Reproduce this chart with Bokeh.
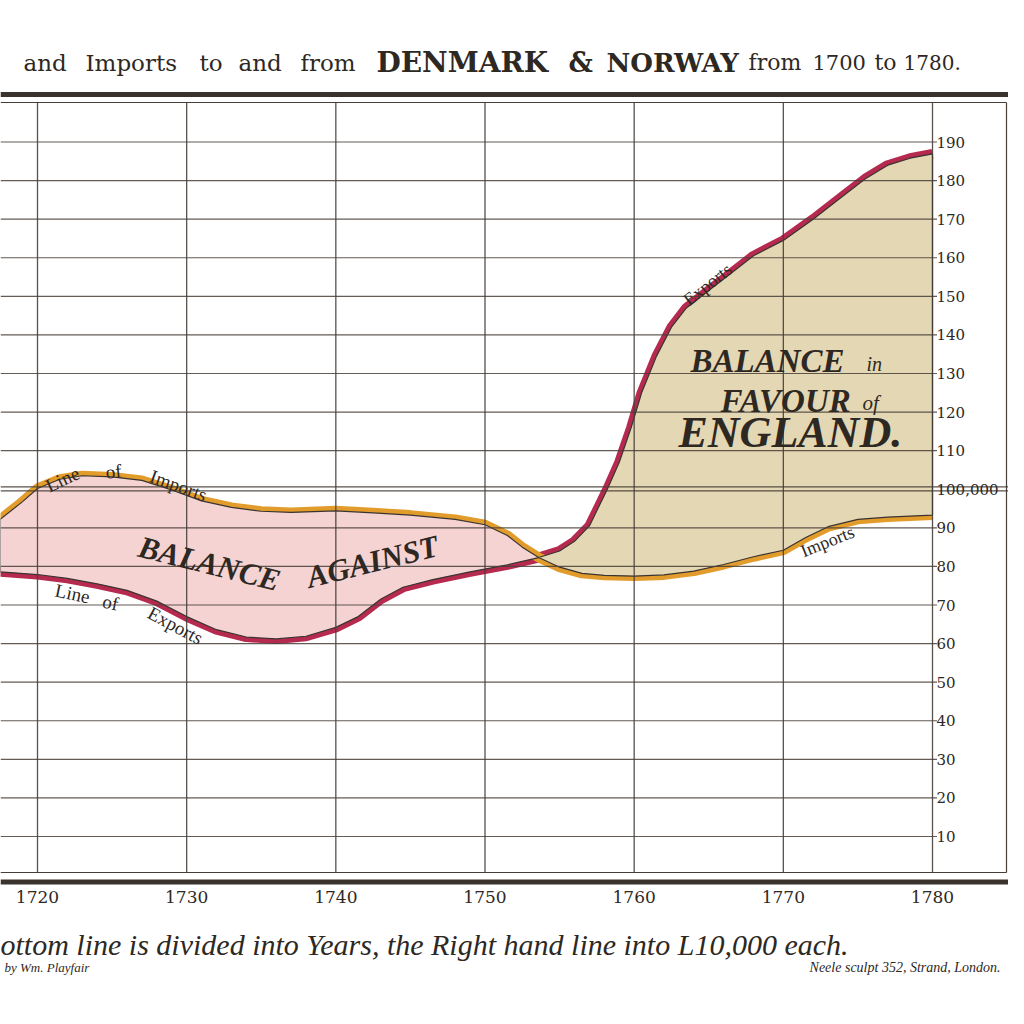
from bokeh.plotting import figure
from bokeh.models import Range1d, Span
from bokeh.embed import file_html
from bokeh.resources import INLINE
from bokeh.core.properties import value

# ---------------- data ----------------
import_years = [1717.5, 1719.0, 1720.0, 1721.5, 1723.0, 1725.0, 1727.0, 1729.0, 1731.0,
                1733.0, 1735.0, 1737.0, 1740.0, 1742.5, 1745.0, 1748.0, 1750.0, 1751.5,
                1752.5, 1753.6, 1755.0, 1756.5, 1758.0, 1760.0, 1762.0, 1764.0, 1766.0,
                1768.0, 1770.0, 1771.5, 1773.0, 1775.0, 1777.0, 1780.0]
import_values = [92.2, 96.8, 100.2, 102.6, 103.5, 103.2, 102.3, 99.8, 97.0,
                 95.3, 94.3, 94.0, 94.4, 93.9, 93.3, 92.2, 90.8, 88.0,
                 85.0, 82.3, 79.8, 78.2, 77.7, 77.5, 77.8, 78.8, 80.5,
                 82.5, 84.2, 87.5, 90.3, 92.2, 92.8, 93.3]

export_years = [1717.5, 1720.0, 1722.0, 1724.0, 1726.0, 1728.0, 1730.0, 1732.0, 1734.0,
                1736.0, 1738.0, 1740.0, 1741.5, 1743.0, 1744.5, 1746.5, 1749.0, 1751.5,
                1753.6, 1755.0, 1756.0, 1757.0, 1758.2, 1759.0, 1759.8, 1760.5, 1761.5,
                1762.5, 1763.5, 1765.0, 1766.5, 1768.0, 1770.0, 1772.0, 1774.0, 1775.5,
                1777.0, 1778.5, 1780.0]
export_values = [78.6, 77.9, 76.9, 75.5, 73.8, 71.0, 67.0, 63.6, 61.7,
                 61.2, 61.9, 64.2, 67.0, 71.5, 74.6, 76.6, 78.6, 80.4,
                 82.3, 84.0, 86.5, 90.5, 100.0, 107.0, 116.0, 125.0, 134.5,
                 142.0, 147.0, 151.5, 156.0, 160.5, 164.5, 170.0, 176.0, 180.5,
                 184.0, 185.8, 186.9]

cross_year = 1753.6

decade_years = [1720, 1730, 1740, 1750, 1760, 1770, 1780]
decade_labels = ["1720", "1730", "1740", "1750", "1760", "1770", "1780"]

value_ticks = [10, 20, 30, 40, 50, 60, 70, 80, 90, 100, 110, 120, 130, 140, 150, 160, 170, 180, 190]
value_labels = ["10", "20", "30", "40", "50", "60", "70", "80", "90", "100,000",
                "110", "120", "130", "140", "150", "160", "170", "180", "190"]

# ---------------- layout helpers (picture pixel -> data) ----------------
PX_1720, PX_1780 = 37.0, 932.0
PY_0, PY_190 = 874.6, 141.5
KX = (PX_1780 - PX_1720) / 60.0
KY = (PY_0 - PY_190) / 190.0


def X(px):
    return 1720 + (px - PX_1720) / KX


def Y(py):
    return (PY_0 - py) / KY


W = H = 1008
INK = "#2e2823"
GRID = "#463e38"
SERIF = "Liberation Serif"
WIDE = "DejaVu Serif"

p = figure(width=W, height=H,
           x_range=Range1d(X(0), X(W)), y_range=Range1d(Y(H), Y(0)),
           output_backend="svg", toolbar_location=None,
           x_axis_type=None, y_axis_type=None, min_border=0)
p.outline_line_color = None
p.background_fill_color = "white"
p.border_fill_color = "white"

# ---------------- coloured lines (under the fills) ----------------
p.line(export_years, export_values, line_color="#b72a4f", line_width=10, line_join="round")
p.line(import_years, import_values, line_color="#e29c2c", line_width=10, line_join="round")

# ---------------- fills between the lines ----------------
ex_a = [(x, v) for x, v in zip(export_years, export_values) if x <= cross_year]
im_a = [(x, v) for x, v in zip(import_years, import_values) if x <= cross_year]
ex_b = [(x, v) for x, v in zip(export_years, export_values) if x >= cross_year]
im_b = [(x, v) for x, v in zip(import_years, import_values) if x >= cross_year]

pink_x = [x for x, _ in ex_a] + [x for x, _ in im_a[::-1]]
pink_y = [v for _, v in ex_a] + [v for _, v in im_a[::-1]]
tan_x = [x for x, _ in ex_b] + [x for x, _ in im_b[::-1]]
tan_y = [v for _, v in ex_b] + [v for _, v in im_b[::-1]]

p.patch(pink_x, pink_y, fill_color="#f5d3d3", line_color="#3a3430", line_width=1.2)
p.patch(tan_x, tan_y, fill_color="#e4d7b3", line_color="#3a3430", line_width=1.2)

# ---------------- grid / frame ----------------
hx, hy = [], []
for v in value_ticks:
    if v == 100:
        continue
    hx.append([X(0), 1780 + 4.5 / KX])
    hy.append([v, v])
p.multi_line(hx, hy, line_color=GRID, line_width=1.2, line_alpha=0.85)

# double line at 100,000
p.multi_line([[X(0), X(1024)], [X(0), X(1024)]], [[100.6, 100.6], [99.6, 99.6]],
             line_color=GRID, line_width=1.2, line_alpha=0.9)

vx = [[yr, yr] for yr in decade_years]
vy = [[Y(872), Y(102)] for _ in decade_years]
p.multi_line(vx, vy, line_color=GRID, line_width=1.3, line_alpha=0.9)

# thin frame lines
p.multi_line([[X(0), X(1006)], [X(0), X(1006)], [X(1006), X(1006)]],
             [[Y(102), Y(102)], [Y(872), Y(872)], [Y(102), Y(872)]],
             line_color=GRID, line_width=1.2)

# heavy rules top and bottom
p.add_layout(Span(location=Y(94), dimension="width", line_color="#3a332d", line_width=5))
p.add_layout(Span(location=Y(881.5), dimension="width", line_color="#3a332d", line_width=5))


# ---------------- texts (positions are the visual centres) ----------------
def txt(s, px, py, size, font=SERIF, style="normal", align="left", angle=0, color=INK):
    p.text(x=[X(px)], y=[Y(py)], text=[s], text_font=value(font),
           text_font_size=f"{size}px", text_font_style=style, text_align=align,
           text_baseline="middle", angle=angle, angle_units="deg", text_color=color)


# title, word by word
title_words = [("and", 23, 23, "normal"), ("Imports", 85, 23, "normal"), ("to", 199, 23, "normal"),
               ("and", 238, 23, "normal"), ("from", 300, 23, "normal"),
               ("DENMARK", 376, 28, "bold"), ("&", 568, 27, "bold"), ("NORWAY", 606, 26, "bold"),
               ("from", 748, 22, "normal"), ("1700", 812, 21, "normal"), ("to", 874, 22, "normal"),
               ("1780.", 903, 20, "normal")]
for w, px, sz, st in title_words:
    txt(w, px, 62, sz, font=WIDE, style=st)

# bottom year labels
p.text(x=decade_years, y=[Y(896)] * len(decade_years), text=decade_labels,
       text_font=value(WIDE), text_font_size="17px", text_align="center",
       text_baseline="middle", text_color=INK)

# right value labels
p.text(x=[X(936)] * len(value_ticks), y=value_ticks, text=value_labels,
       text_font=value(WIDE), text_font_size="15px", text_align="left",
       text_baseline="middle", text_color=INK)

# captions
txt("ottom line is divided into Years, the Right hand line into L10,000 each.", 0, 944, 30, style="italic")
txt("by Wm. Playfair", 4, 967, 13, style="italic")
txt("Neele sculpt 352, Strand, London.", 1000, 967, 14, style="italic", align="right")

# curve annotations
txt("Line", 62, 479, 19, align="center", angle=25)
txt("of", 113, 471, 19, align="center", angle=5)
txt("Imports", 178, 485, 19, align="center", angle=-20)

txt("Line", 72, 593, 19, align="center", angle=-12)
txt("of", 110, 602, 19, align="center", angle=-12)
txt("Exports", 175, 625, 19, align="center", angle=-28)

txt("Exports", 707, 284, 18, align="center", angle=38)
txt("Imports", 827, 541, 18, align="center", angle=22)

# balance texts
txt("BALANCE", 209, 563, 31, style="bold italic", align="center", angle=-14)
txt("AGAINST", 372, 561, 31, style="bold italic", align="center", angle=14)

txt("BALANCE", 690, 360, 33, style="bold italic")
txt("in", 866, 363, 20, style="italic")
txt("FAVOUR", 720, 400, 33, style="bold italic")
txt("of", 862, 402, 21, style="italic")
txt("ENGLAND.", 678, 432, 44, style="bold italic")

open("out.html", "w").write(file_html(p, INLINE))
